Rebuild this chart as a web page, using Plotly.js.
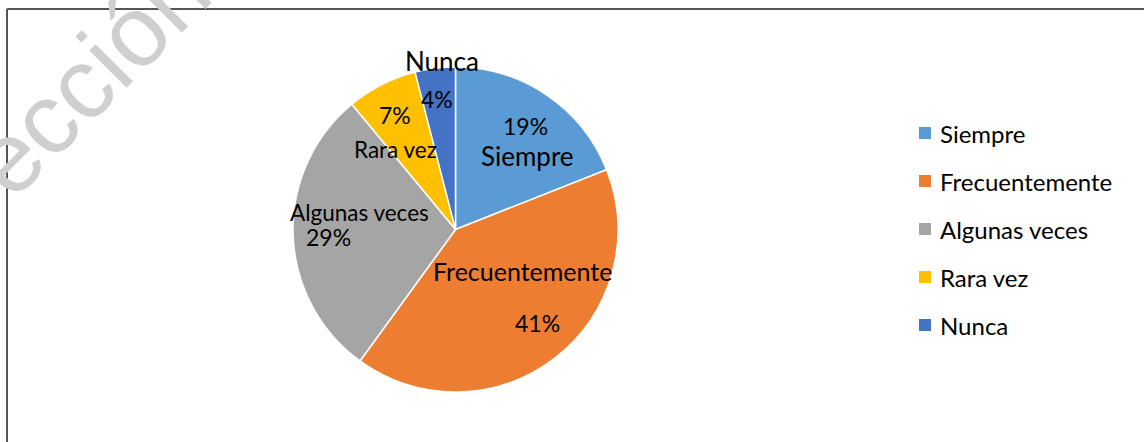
<!DOCTYPE html>
<html>
<head>
<meta charset="utf-8">
<script src="https://cdn.plot.ly/plotly-3.0.1.min.js"></script>
<style>html,body{margin:0;padding:0;background:#fff;}#chart{width:1144px;height:442px;}</style>
</head>
<body>
<div id="chart"></div>
<script>
// ---- data ----
const categories = ["Siempre", "Frecuentemente", "Algunas veces", "Rara vez", "Nunca"];
const values = [19, 41, 29, 7, 4];
const colors = ["#5B9BD5", "#ED7D31", "#A5A5A5", "#FFC000", "#4472C4"];

// ---- layout helpers ----
const W = 1144, H = 442;
const px = x => x / W;
const py = y => 1 - y / H;
const FONT = "Lato, 'Open Sans', sans-serif";

const pie = {
  type: "pie",
  labels: categories,
  values: values,
  sort: false,
  direction: "clockwise",
  rotation: 0,
  marker: { colors: colors, line: { color: "#ffffff", width: 1.5 } },
  textinfo: "none",
  hoverinfo: "label+percent",
  showlegend: false,
  domain: { x: [px(293), px(618)], y: [py(392), py(67)] }
};

const annotations = [];
function addText(text, x, y, size) {
  annotations.push({
    xref: "paper", yref: "paper", x: px(x), y: py(y),
    xanchor: "center", yanchor: "middle", showarrow: false,
    text: text, font: { family: FONT, size: size, color: "#000000" }
  });
}
const pct = i => values[i] + "%";

// slice labels (data-driven text, positions as layout)
addText(pct(0), 525, 126, 23);
addText(categories[0], 527, 156, 26);
addText(categories[1], 522, 271, 25);
addText(pct(1), 537, 323, 23);
addText(categories[2], 359, 212, 22.5);
addText(pct(2), 328, 237, 23);
addText(categories[3], 395, 149, 22.5);
addText(pct(3), 395, 115, 23);
addText(pct(4), 437, 99, 23);
addText(categories[4], 442, 61, 26);

// manual legend
const shapes = [];
const legY = [133, 181, 229, 277, 325];
categories.forEach((c, i) => {
  shapes.push({
    type: "rect", xref: "paper", yref: "paper",
    x0: px(919), x1: px(931), y0: py(legY[i] + 6), y1: py(legY[i] - 6),
    fillcolor: colors[i], line: { width: 0 }
  });
  annotations.push({
    xref: "paper", yref: "paper", x: px(938), y: py(legY[i]),
    xanchor: "left", yanchor: "middle", showarrow: false,
    text: c, font: { family: FONT, size: 24, color: "#000000" }
  });
});

// frame (left + top edges)
shapes.push({ type: "line", xref: "paper", yref: "paper", x0: px(7), x1: px(7), y0: 0, y1: py(9),
  line: { color: "#555555", width: 2 } });
shapes.push({ type: "line", xref: "paper", yref: "paper", x0: px(7), x1: 1, y0: py(9), y1: py(9),
  line: { color: "#555555", width: 2 } });

// watermark
annotations.push({
  xref: "paper", yref: "paper", x: px(89), y: py(76),
  xanchor: "center", yanchor: "middle", showarrow: false,
  text: "ección", textangle: -45,
  font: { family: "Liberation Sans, Arial, sans-serif", size: 100, color: "#cfcfcf" }
});

const layout = {
  width: W, height: H,
  margin: { l: 0, r: 0, t: 0, b: 0 },
  paper_bgcolor: "#ffffff",
  plot_bgcolor: "#ffffff",
  showlegend: false,
  annotations: annotations,
  shapes: shapes
};

Plotly.newPlot("chart", [pie], layout, { displayModeBar: false, staticPlot: true });
</script>
</body>
</html>
